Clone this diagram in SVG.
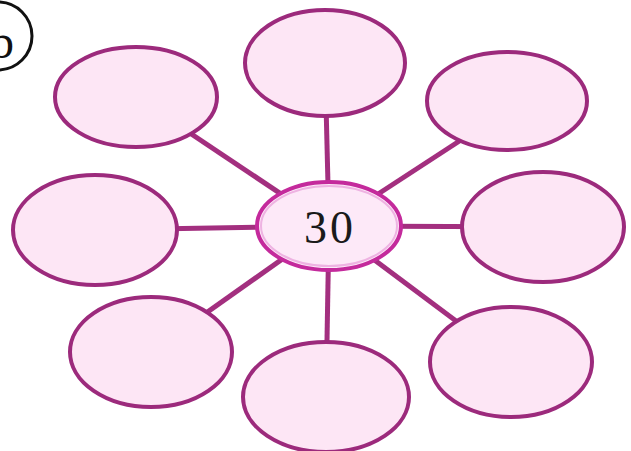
<svg xmlns="http://www.w3.org/2000/svg" width="631" height="451" viewBox="0 0 631 451">
<style>
.outer{fill:#fde6f5;stroke:#9c2a7c;stroke-width:4}
.conn{stroke:#a32f7f;stroke-width:5;stroke-linecap:butt}
.center{fill:#fde9f8;stroke:#c42a9c;stroke-width:4}
.inner{fill:none;stroke:#eeb3e2;stroke-width:2}
.num{font-family:"Liberation Serif",serif;font-size:46px;fill:#1a1a1a;letter-spacing:3px}
</style>
<rect width="631" height="451" fill="#ffffff"/>
<g id="label">
<circle cx="-2" cy="36" r="34" fill="none" stroke="#111" stroke-width="3"/>
<text x="-10" y="58" font-family="Liberation Serif, serif" font-size="48" fill="#111">b</text>
</g>
<g id="connectors">
<line class="conn" x1="329" y1="226" x2="136" y2="97"/>
<line class="conn" x1="329" y1="226" x2="325" y2="63"/>
<line class="conn" x1="329" y1="226" x2="507" y2="110"/>
<line class="conn" x1="329" y1="226" x2="95" y2="230"/>
<line class="conn" x1="329" y1="226" x2="543" y2="227"/>
<line class="conn" x1="329" y1="226" x2="151" y2="352"/>
<line class="conn" x1="329" y1="226" x2="326" y2="397"/>
<line class="conn" x1="329" y1="226" x2="511" y2="362"/>
</g>
<g id="n-top-left"><ellipse class="outer" cx="136" cy="97" rx="81" ry="50"/></g>
<g id="n-top"><ellipse class="outer" cx="325" cy="63" rx="80" ry="53"/></g>
<g id="n-top-right"><ellipse class="outer" cx="507" cy="101" rx="80" ry="49"/></g>
<g id="n-left"><ellipse class="outer" cx="95" cy="230" rx="82" ry="55"/></g>
<g id="n-right"><ellipse class="outer" cx="543" cy="227" rx="81" ry="55"/></g>
<g id="n-bottom-left"><ellipse class="outer" cx="151" cy="352" rx="81" ry="55"/></g>
<g id="n-bottom"><ellipse class="outer" cx="326" cy="397" rx="83" ry="55"/></g>
<g id="n-bottom-right"><ellipse class="outer" cx="511" cy="362" rx="81" ry="55"/></g>
<g id="n-center">
<ellipse class="center" cx="329" cy="226" rx="72" ry="44"/>
<ellipse class="inner" cx="329" cy="226" rx="68" ry="40"/>
<text class="num" x="330" y="243" text-anchor="middle">30</text>
</g>
</svg>
